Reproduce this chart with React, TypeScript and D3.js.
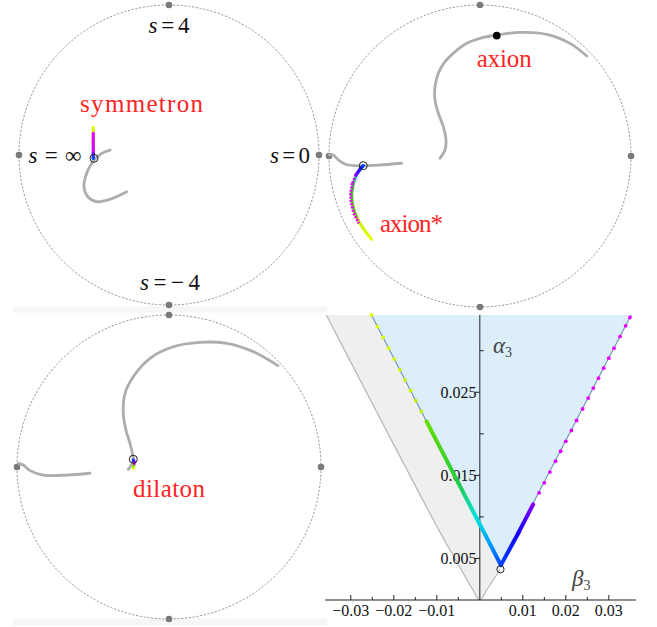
import React from "react";
import * as d3 from "d3";

type P2 = [number, number];
type P3 = [number, number, number];

// ---- disk panels: points in unit-disk coords [u, v] ----
const compass: P2[] = [[0, 1], [0, -1], [-1, 0], [1, 0]];

const symmetronCurve: P2[] = [
  [-0.282, -0.245], [-0.393, -0.295], [-0.482, -0.311], [-0.538, -0.282],
  [-0.567, -0.211], [-0.553, -0.133], [-0.515, -0.055], [-0.449, 0.011], [-0.393, 0.033],
];
const axionCurveLeft: P2[] = [
  [-1.0, 0.007], [-0.972, 0.007], [-0.938, -0.026], [-0.894, -0.053],
  [-0.806, -0.066], [-0.674, -0.06], [-0.519, -0.048],
];
const axionCurveArc: P2[] = [
  [-0.265, -0.015], [-0.232, 0.04], [-0.225, 0.106], [-0.243, 0.194], [-0.276, 0.283],
  [-0.298, 0.371], [-0.298, 0.459], [-0.276, 0.548], [-0.232, 0.625], [-0.177, 0.68],
  [-0.088, 0.746], [0.022, 0.786], [0.111, 0.801], [0.265, 0.819], [0.442, 0.806],
  [0.596, 0.746], [0.707, 0.662],
];
const dilatonCurveLeft: P2[] = [
  [-0.991, 0.024], [-0.959, 0.013], [-0.914, -0.024], [-0.827, -0.053],
  [-0.673, -0.053], [-0.52, -0.041],
];
const dilatonCurveArc: P2[] = [
  [-0.268, -0.015], [-0.252, 0.007], [-0.235, 0.035], [-0.239, 0.079], [-0.257, 0.156],
  [-0.283, 0.243], [-0.301, 0.353], [-0.289, 0.485], [-0.235, 0.594], [-0.125, 0.715],
  [0.028, 0.791], [0.204, 0.82], [0.38, 0.814], [0.555, 0.759], [0.717, 0.667],
];

// coloured tracks: [u, v, beta3 of the matching point]
const symmetronTrackL: P3[] = [
  [-0.505, -0.022, 0.0048], [-0.505, 0.022, -0.001], [-0.505, 0.08, -0.012],
  [-0.505, 0.145, -0.02], [-0.505, 0.185, -0.0252],
];
const symmetronTrackR: P3[] = [
  [-0.505, -0.022, 0.0048], [-0.505, 0.01, 0.012], [-0.505, 0.03, 0.015], [-0.505, 0.145, 0.035],
];
const axionStarTrackL: P3[] = [
  [-0.773, -0.064, 0.0048], [-0.788, -0.081, 0.003], [-0.817, -0.126, -0.001],
  [-0.839, -0.181, -0.006], [-0.85, -0.247, -0.009], [-0.846, -0.313, -0.011],
  [-0.828, -0.379, -0.0124], [-0.795, -0.446, -0.016], [-0.75, -0.512, -0.022],
  [-0.717, -0.552, -0.0252],
];
const axionStarTrackR: P3[] = [
  [-0.773, -0.064, 0.0048], [-0.79, -0.081, 0.008], [-0.822, -0.126, 0.0124],
];
const axionStarDotsR: P3[] = [
  [-0.822, -0.126, 0.0138], [-0.846, -0.181, 0.016], [-0.857, -0.247, 0.02],
  [-0.853, -0.313, 0.025], [-0.835, -0.379, 0.03], [-0.803, -0.446, 0.035],
];
const dilatonTrackL: P3[] = [
  [-0.235, 0.046, 0.0048], [-0.233, 0.03, -0.004], [-0.232, 0.012, -0.012], [-0.235, -0.009, -0.0252],
];
const dilatonTrackR: P3[] = [
  [-0.235, 0.046, 0.0048], [-0.229, 0.035, 0.012], [-0.228, 0.022, 0.03],
];
const symmetronMarker: P2 = [-0.5, -0.022];
const axionStarMarker: P2 = [-0.773, -0.064];
const dilatonMarker: P2 = [-0.235, 0.051];
const axionPoint: P2 = [0.111, 0.797];

// ---- beta3 / alpha3 plot ----
const betaMajor = [-0.03, -0.02, -0.01, 0.01, 0.02, 0.03];
const betaMinor = [-0.025, -0.015, -0.005, 0.005, 0.015, 0.025];
const alphaMajor = [0.005, 0.015, 0.025];
const alphaMinor = [0.01, 0.02, 0.03];

const grayLeft: P2[] = [
  [-0.0364, 0.035], [-0.0357, 0.0343], [-0.0093, 0.0082], [-0.0047, 0.004], [-0.0016, 0.0012], [0, 0],
];
const grayRight: P2[] = [[0, 0], [0.0016, 0.0012], [0.0031, 0.0024], [0.0048, 0.0037]];
const blueRegion: P2[] = [[-0.0258, 0.0349], [0.0049, 0.0042], [0.0357, 0.0348]];
const leftThick: P2[] = [
  [-0.0124, 0.0215], [-0.005, 0.0141], [-0.0008, 0.0099], [0.0025, 0.0066], [0.0049, 0.0042],
];
const rightThick: P2[] = [[0.0049, 0.0042], [0.009, 0.0081], [0.0124, 0.0115]];
const leftDots: P2[] = [
  [-0.0252, 0.0343], [-0.0238, 0.0329], [-0.0225, 0.0316], [-0.0212, 0.0303], [-0.0199, 0.029],
  [-0.0186, 0.0277], [-0.0174, 0.0265], [-0.0161, 0.0252], [-0.0149, 0.024], [-0.0136, 0.0227],
];
const rightDots: P2[] = [
  [0.0138, 0.0129], [0.015, 0.0141], [0.0163, 0.0154], [0.0176, 0.0167], [0.0188, 0.0179],
  [0.02, 0.0191], [0.0213, 0.0204], [0.0225, 0.0216], [0.0239, 0.023], [0.0252, 0.0243],
  [0.0264, 0.0255], [0.0276, 0.0267], [0.0288, 0.0279], [0.03, 0.0291], [0.0312, 0.0303],
  [0.0326, 0.0317], [0.0339, 0.033], [0.0349, 0.034],
];
const vertexMarker: P2 = [0.0048, 0.0037];

// colour of a point along the path, keyed by beta3
const color = d3
  .scaleLinear<string>()
  .domain([-0.0252, -0.0135, -0.0124, -0.008, -0.004, -0.001, 0.0025, 0.0048, 0.009, 0.0124, 0.0138, 0.035])
  .range(["#e4ff00", "#bdf200", "#66dd00", "#33cc11", "#1ccc55", "#00e6dd", "#0099ff", "#0044ff", "#1400ff", "#8800ff", "#dd00ff", "#ee00ff"])
  .clamp(true);

const serif = "Liberation Serif, Times New Roman, DejaVu Serif, serif";
const red = "#ff2424";

function disk(cx: number, cy: number, r: number) {
  return {
    cx, cy, r,
    x: d3.scaleLinear().domain([-1, 1]).range([cx - r, cx + r]),
    y: d3.scaleLinear().domain([-1, 1]).range([cy + r, cy - r]),
  };
}

type Sc = (v: number) => number;

function Track({ id, pts, x, y, width, dash }: { id: string; pts: P3[]; x: Sc; y: Sc; width: number; dash?: string }) {
  const segs = d3.pairs(pts);
  return (
    <g>
      <defs>
        {segs.map(([a, b], i) => (
          <linearGradient key={i} id={id + i} gradientUnits="userSpaceOnUse"
            x1={x(a[0])} y1={y(a[1])} x2={x(b[0]) + 0.01} y2={y(b[1])}>
            <stop offset="0" stopColor={color(a[2])} />
            <stop offset="1" stopColor={color(b[2])} />
          </linearGradient>
        ))}
      </defs>
      {segs.map(([a, b], i) => (
        <line key={i} x1={x(a[0])} y1={y(a[1])} x2={x(b[0])} y2={y(b[1])}
          stroke={`url(#${id + i})`} strokeWidth={width}
          strokeLinecap={dash ? "butt" : "round"} strokeDasharray={dash} />
      ))}
    </g>
  );
}

function Frame({ d }: { d: ReturnType<typeof disk> }) {
  return (
    <g>
      <circle cx={d.cx} cy={d.cy} r={d.r} fill="none" stroke="#8a8a8a" strokeWidth={0.9} strokeDasharray="2.2 1.6" />
      {compass.map((p, i) => (
        <circle key={i} cx={d.x(p[0])} cy={d.y(p[1])} r={3.3} fill="#7a7a7a" />
      ))}
    </g>
  );
}

function GrayCurve({ d, pts }: { d: ReturnType<typeof disk>; pts: P2[] }) {
  const line = d3.line<P2>().x((p) => d.x(p[0])).y((p) => d.y(p[1])).curve(d3.curveCatmullRom.alpha(0.5));
  return <path d={line(pts) || ""} fill="none" stroke="#adadad" strokeWidth={2.8} strokeLinecap="round" />;
}

function Marker({ d, p }: { d: ReturnType<typeof disk>; p: P2 }) {
  return <circle cx={d.x(p[0])} cy={d.y(p[1])} r={4} fill="none" stroke="#222" strokeWidth={1} />;
}

export default function App() {
  const A = disk(169, 155, 150);
  const B = disk(480, 156, 151);
  const C = disk(169, 467, 152);

  const xb = d3.scaleLinear().domain([-0.036, 0.0362]).range([325, 635.5]);
  const ya = d3.scaleLinear().domain([0, 0.0343]).range([600, 315]);
  const toP3 = (pts: P2[]): P3[] => pts.map((p) => [p[0], p[1], p[0]]);

  const cr = d3.line<P2>().x((p) => xb(p[0])).y((p) => ya(p[1])).curve(d3.curveCatmullRom.alpha(0.5));
  const lin = d3.line<P2>().x((p) => xb(p[0])).y((p) => ya(p[1]));
  const grayEdge = [...grayLeft, ...grayRight.slice(1)];
  const grayFill = (cr(grayEdge) || "") + (lin([blueRegion[1], blueRegion[2]]) || "").replace(/^M/, "L") + "Z";

  const sLabel = (d: ReturnType<typeof disk>, u: number, v: number, rest: string, len: number) => (
    <text x={d.x(u)} y={d.y(v)} textAnchor="middle" style={{ fontFamily: serif, fontSize: 23 }} fill="#111"
      textLength={len} lengthAdjust="spacing">
      <tspan style={{ fontStyle: "italic" }}>s</tspan>{rest}
    </text>
  );
  const name = (d: ReturnType<typeof disk>, u: number, v: number, t: string, len: number) => (
    <text x={d.x(u)} y={d.y(v)} textAnchor="middle" style={{ fontFamily: serif, fontSize: 25 }} fill={red}
      textLength={len} lengthAdjust="spacing">{t}</text>
  );

  return (
    <svg width={657} height={627} style={{ position: "absolute", left: 0, top: 0, background: "#fff", fontFamily: serif }}>
      {/* faint panel bands */}
      <rect x={13} y={306.5} width={314} height={6} fill="#f6f6f6" />
      <rect x={13} y={618.5} width={314} height={7} fill="#f6f6f6" />

      {/* panel A: symmetron */}
      <Frame d={A} />
      <GrayCurve d={A} pts={symmetronCurve} />
      <Track id="sl" pts={symmetronTrackL} x={A.x} y={A.y} width={3} />
      <Track id="sr" pts={symmetronTrackR} x={A.x} y={A.y} width={3} />
      <Marker d={A} p={symmetronMarker} />
      {sLabel(A, 0, 0.813, "=4", 41)}
      {sLabel(A, -0.76, -0.053, "=\u221E", 53)}
      {sLabel(A, 0.807, -0.053, "=0", 40)}
      {sLabel(A, 0.007, -0.9, "=\u22124", 60)}
      {name(A, -0.183, 0.287, "symmetron", 123)}

      {/* panel B: axion */}
      <Frame d={B} />
      <GrayCurve d={B} pts={axionCurveLeft} />
      <GrayCurve d={B} pts={axionCurveArc} />
      <circle cx={B.x(axionPoint[0])} cy={B.y(axionPoint[1])} r={3.8} fill="#000" />
      <Track id="al" pts={axionStarTrackL} x={B.x} y={B.y} width={3} />
      <Track id="ad" pts={axionStarDotsR} x={B.x} y={B.y} width={3} dash="2 1.3" />
      <Track id="ar" pts={axionStarTrackR} x={B.x} y={B.y} width={3.2} />
      <Marker d={B} p={axionStarMarker} />
      {name(B, 0.16, 0.591, "axion", 55)}
      {name(B, -0.454, -0.503, "axion*", 63)}

      {/* panel C: dilaton */}
      <Frame d={C} />
      <GrayCurve d={C} pts={dilatonCurveLeft} />
      <GrayCurve d={C} pts={dilatonCurveArc} />
      <Track id="dl" pts={dilatonTrackL} x={C.x} y={C.y} width={3} />
      <Track id="dr" pts={dilatonTrackR} x={C.x} y={C.y} width={3} />
      <Marker d={C} p={dilatonMarker} />
      {name(C, 0, -0.195, "dilaton", 72)}

      {/* panel D: beta3 / alpha3 */}
      <defs>
        <clipPath id="plotClip">
          <rect x={325} y={315} width={311} height={286} />
        </clipPath>
      </defs>
      <g clipPath="url(#plotClip)">
        <rect x={325} y={315} width={311} height={285} fill="#fff" />
        <path d={grayFill} fill="#efefef" />
        <path d={(lin(blueRegion) || "") + "Z"} fill="#dbeef9" />
        <path d={cr(grayEdge) || ""} fill="none" stroke="#b8b8b8" strokeWidth={1.2} />
        <path d={lin(blueRegion) || ""} fill="none" stroke="#7090b4" strokeWidth={1.1} />
      </g>
      {/* axes */}
      <line x1={325} x2={636} y1={ya(0)} y2={ya(0)} stroke="#222" strokeWidth={1} />
      <line x1={xb(0)} x2={xb(0)} y1={315} y2={ya(0)} stroke="#222" strokeWidth={1} />
      {betaMajor.map((t) => (
        <g key={t}>
          <line x1={xb(t)} x2={xb(t)} y1={ya(0)} y2={ya(0) - 5} stroke="#222" />
          <text x={xb(t)} y={616} textAnchor="middle" style={{ fontFamily: serif, fontSize: 16 }} fill="#111">
            {t < 0 ? "\u2212" + Math.abs(t).toFixed(2) : t.toFixed(2)}
          </text>
        </g>
      ))}
      {betaMinor.map((t) => (
        <line key={t} x1={xb(t)} x2={xb(t)} y1={ya(0)} y2={ya(0) - 3} stroke="#222" />
      ))}
      {alphaMajor.map((t) => (
        <g key={t}>
          <line x1={xb(0) - 5} x2={xb(0)} y1={ya(t)} y2={ya(t)} stroke="#222" />
          <text x={476.5} y={ya(t) + 5.5} textAnchor="end" style={{ fontFamily: serif, fontSize: 16 }} fill="#111">
            {t.toFixed(3)}
          </text>
        </g>
      ))}
      {alphaMinor.map((t) => (
        <line key={t} x1={xb(0)} x2={xb(0) + 4} y1={ya(t)} y2={ya(t)} stroke="#222" />
      ))}
      <text x={493} y={353} style={{ fontFamily: serif, fontSize: 23, fontStyle: "italic" }} fill="#444">
        {"\u03B1"}
        <tspan style={{ fontSize: 14, fontStyle: "normal" }} dy={4}>3</tspan>
      </text>
      <text x={572} y={586} style={{ fontFamily: serif, fontSize: 23, fontStyle: "italic" }} fill="#444">
        {"\u03B2"}
        <tspan style={{ fontSize: 14, fontStyle: "normal" }} dy={4}>3</tspan>
      </text>

      {/* coloured path */}
      <Track id="lt" pts={toP3(leftThick)} x={xb} y={ya} width={4} />
      <Track id="rt" pts={toP3(rightThick)} x={xb} y={ya} width={4} />
      {[...leftDots, ...rightDots].map((p, i) => (
        <circle key={i} cx={xb(p[0])} cy={ya(p[1])} r={1.9} fill={color(p[0])} />
      ))}
      <circle cx={xb(vertexMarker[0])} cy={ya(vertexMarker[1])} r={3.6} fill="none" stroke="#222" strokeWidth={1} />
    </svg>
  );
}
